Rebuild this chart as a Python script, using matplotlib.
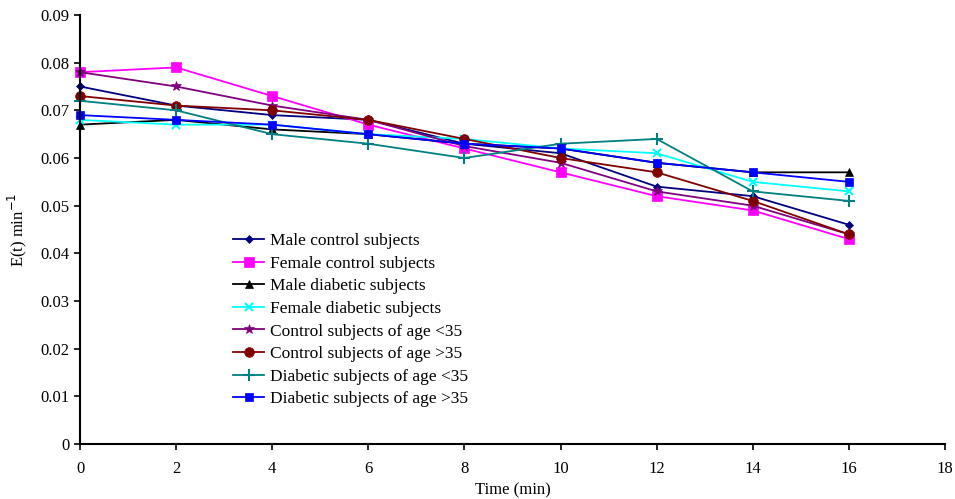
import matplotlib.pyplot as plt
from matplotlib.ticker import FuncFormatter

plt.rcParams["font.family"] = ["Liberation Serif", "DejaVu Serif"]

time_min = [0, 2, 4, 6, 8, 10, 12, 14, 16]

male_control = [0.075, 0.071, 0.069, 0.068, 0.063, 0.061, 0.054, 0.052, 0.046]
female_control = [0.078, 0.079, 0.073, 0.067, 0.062, 0.057, 0.052, 0.049, 0.043]
male_diabetic = [0.067, 0.068, 0.066, 0.065, 0.063, 0.062, 0.059, 0.057, 0.057]
female_diabetic = [0.068, 0.067, 0.067, 0.065, 0.064, 0.062, 0.061, 0.055, 0.053]
control_lt35 = [0.078, 0.075, 0.071, 0.068, 0.0625, 0.059, 0.053, 0.050, 0.044]
control_gt35 = [0.073, 0.071, 0.070, 0.068, 0.064, 0.060, 0.057, 0.051, 0.044]
diabetic_lt35 = [0.072, 0.070, 0.065, 0.063, 0.060, 0.063, 0.064, 0.053, 0.051]
diabetic_gt35 = [0.069, 0.068, 0.067, 0.065, 0.063, 0.062, 0.059, 0.057, 0.055]

series = [
    ("Male control subjects", male_control, "#000080", "D", 4),
    ("Female control subjects", female_control, "#FF00FF", "s", 7),
    ("Male diabetic subjects", male_diabetic, "black", "^", 6),
    ("Female diabetic subjects", female_diabetic, "#00FFFF", "x", 6),
    ("Control subjects of age <35", control_lt35, "#800080", "*", 7),
    ("Control subjects of age >35", control_gt35, "#800000", "o", 7),
    ("Diabetic subjects of age <35", diabetic_lt35, "#008080", "+", 8),
    ("Diabetic subjects of age >35", diabetic_gt35, "#0000FF", "s", 6),
]

fig = plt.figure(figsize=(9.55, 4.99), dpi=100)
ax = fig.add_axes([0.0838, 0.110, 0.9057, 0.860])

for label, values, color, marker, size in series:
    ax.plot(time_min, values, color=color, marker=marker, markersize=size,
            linewidth=1.3, label=label, clip_on=False,
            markeredgewidth=1.5 if marker in "x+" else 0.5)

ax.set_xlim(0, 18)
ax.set_ylim(0, 0.09)
ax.set_xticks(range(0, 19, 2))
ax.set_yticks([i / 100 for i in range(10)])
ax.yaxis.set_major_formatter(FuncFormatter(lambda v, _: "0" if v == 0 else f"{v:.2f}"))

for side in ("top", "right"):
    ax.spines[side].set_visible(False)
for side in ("left", "bottom"):
    ax.spines[side].set_linewidth(1.5)
ax.tick_params(direction="out", length=4, width=1.2, labelsize=12)
ax.tick_params(axis="x", pad=8)

ax.set_xlabel("Time (min)", fontsize=12, labelpad=4)
ax.set_ylabel("E(t) min$^{-1}$", fontsize=12, labelpad=8)

ax.legend(loc="upper left", bbox_to_anchor=(0.169, 0.508), frameon=False,
          fontsize=12.5, handlelength=1.8, handletextpad=0.3,
          labelspacing=0.37, borderaxespad=0)

fig.savefig("out.png", dpi=100)
